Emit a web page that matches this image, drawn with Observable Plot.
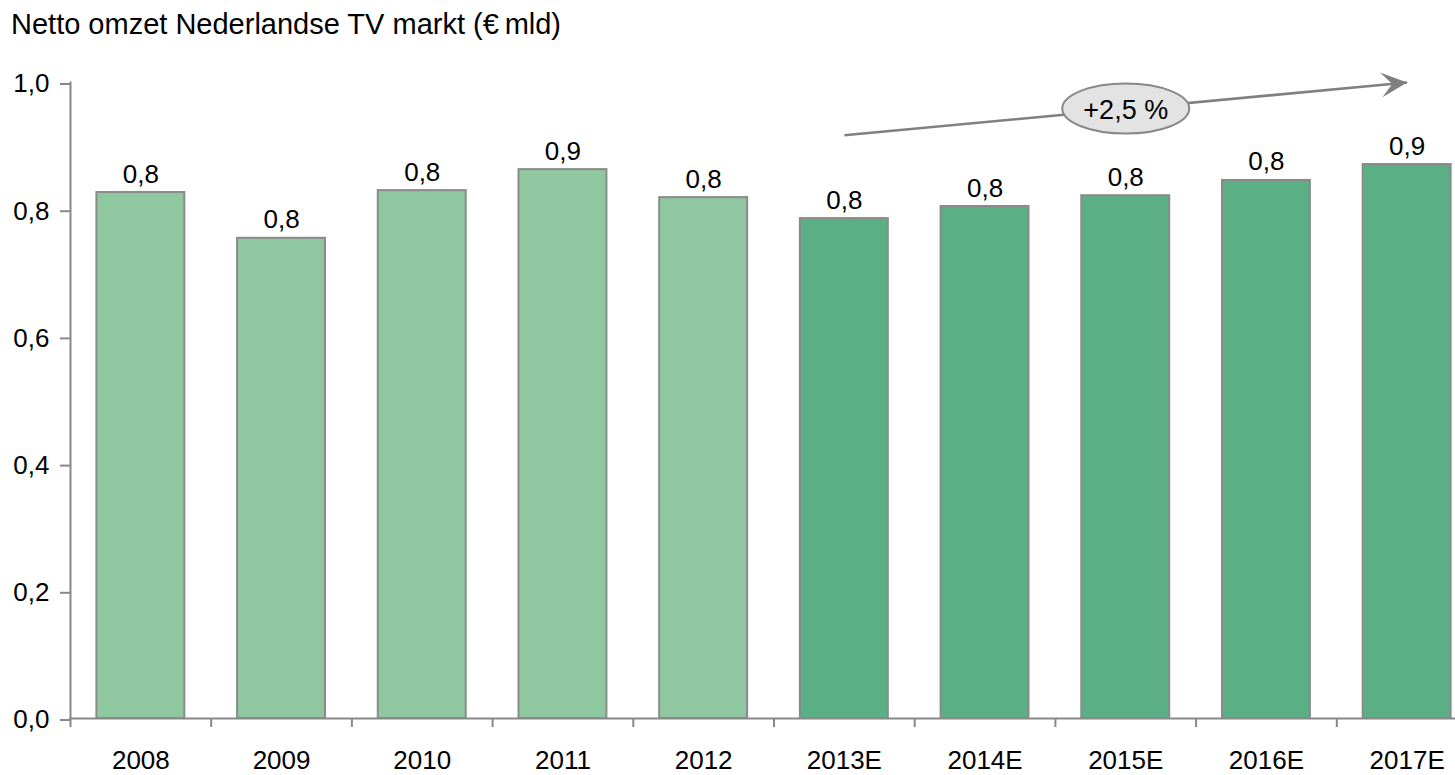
<!DOCTYPE html>
<html><head><meta charset="utf-8">
<script src="https://cdn.jsdelivr.net/npm/d3@7"></script>
<script src="https://cdn.jsdelivr.net/npm/@observablehq/plot@0.6"></script>
<style>
body{margin:0;background:#fff;font-family:"Liberation Sans",Arial,sans-serif;overflow:hidden;}
#title{font-size:29px;height:60px;box-sizing:border-box;padding:10px 0 0 11px;line-height:29px;color:#000;white-space:nowrap;}
#chart svg{display:block;}
</style></head><body>
<div id="title">Netto omzet Nederlandse TV markt (€&#8201;mld)</div>
<div id="chart"></div>
<script>
// ---- data ----
const years  = ["2008","2009","2010","2011","2012","2013E","2014E","2015E","2016E","2017E"];
const values = [0.827, 0.755, 0.830, 0.863, 0.819, 0.786, 0.805, 0.822, 0.846, 0.871];
const valueLabels = ["0,8","0,8","0,8","0,9","0,8","0,8","0,8","0,8","0,8","0,9"];
const kinds  = ["actual","actual","actual","actual","actual","estimate","estimate","estimate","estimate","estimate"];
const yTicks = [0, 0.2, 0.4, 0.6, 0.8, 1.0];
// growth annotation
const growthText = ["+2,5 %"];
const growthAt   = ["2015E", 0.959];
const arrowFrom  = ["2013E", 0.917];
const arrowTo    = ["2017E", 1.0];

const data = years.map((y, i) => ({year: y, value: values[i], label: valueLabels[i], kind: kinds[i]}));

const W = 1455, H = 715;
const xRange = [70, 1477];
const step = (xRange[1] - xRange[0]) / years.length;
const fmt = d => d.toFixed(1).replace(".", ",");
const FONT = "'Liberation Sans', Arial, sans-serif";

const ellipseSymbol = {
  draw(ctx) {
    const rx = 63.5, ry = 25, k = 0.5523;
    ctx.moveTo(rx, 0);
    ctx.bezierCurveTo(rx, ry * k, rx * k, ry, 0, ry);
    ctx.bezierCurveTo(-rx * k, ry, -rx, ry * k, -rx, 0);
    ctx.bezierCurveTo(-rx, -ry * k, -rx * k, -ry, 0, -ry);
    ctx.bezierCurveTo(rx * k, -ry, rx, -ry * k, rx, 0);
    ctx.closePath();
  }
};

// filled, notched arrowhead
const stealthMarker = (color) =>
  d3.create("svg:marker")
    .attr("viewBox", "-28 -14 30 28")
    .attr("markerWidth", 30)
    .attr("markerHeight", 28)
    .attr("markerUnits", "userSpaceOnUse")
    .attr("refX", 0).attr("refY", 0)
    .attr("orient", "auto")
    .attr("fill", color)
    .attr("stroke", "none")
    .call(m => m.append("path").attr("d", "M0,0L-26,-12.5L-15,0L-26,12.5Z"))
    .node();

const chart = Plot.plot({
  width: W, height: H,
  marginLeft: 70, marginRight: W - xRange[1], marginTop: 22, marginBottom: 57,
  style: {fontFamily: FONT, overflow: "visible", background: "#fff", color: "#000"},
  x: {domain: years, range: xRange, paddingInner: 0.375, paddingOuter: 0.1875, round: false, axis: null, label: null},
  y: {domain: [0, 1], range: [658, 22], axis: null, label: null},
  color: {domain: ["actual", "estimate"], range: ["#8fc7a0", "#5baf84"]},
  marks: [
    Plot.barY(data, {x: "year", y: "value", fill: "kind", stroke: "#8a8a8a", strokeWidth: 2}),
    Plot.text(data, {x: "year", y: "value", text: "label", dy: -10, lineAnchor: "bottom", fontSize: 26, fill: "#000"}),
    Plot.frame({anchor: "left", stroke: "#888", strokeWidth: 2}),
    Plot.frame({anchor: "bottom", stroke: "#888", strokeWidth: 2}),
    Plot.axisY({ticks: yTicks, tickFormat: fmt, tickSize: 10, tickPadding: 11, fontSize: 26, stroke: "#888", strokeWidth: 2, fill: "#000", label: null, dy: 1.5}),
    Plot.axisX({ticks: years, tickSize: 9, tickFormat: () => "", dx: -step / 2, stroke: "#888", strokeWidth: 2, label: null}),
    Plot.axisX({ticks: years, tickSize: 0, tickPadding: 32, fontSize: 26, fill: "#000", label: null}),
    Plot.link([0], {x1: () => arrowFrom[0], y1: () => arrowFrom[1], x2: () => arrowTo[0], y2: () => arrowTo[1],
      stroke: "#808080", strokeWidth: 2.6, markerEnd: stealthMarker}),
    Plot.dot([0], {x: () => growthAt[0], y: () => growthAt[1], r: 10, symbol: ellipseSymbol, fill: "#e3e3e3", stroke: "#888", strokeWidth: 2}),
    Plot.text(growthText, {x: () => growthAt[0], y: () => growthAt[1], text: d => d, fontSize: 27, fill: "#000", dy: 2})
  ]
});
document.getElementById("chart").appendChild(chart);
</script>
</body></html>
